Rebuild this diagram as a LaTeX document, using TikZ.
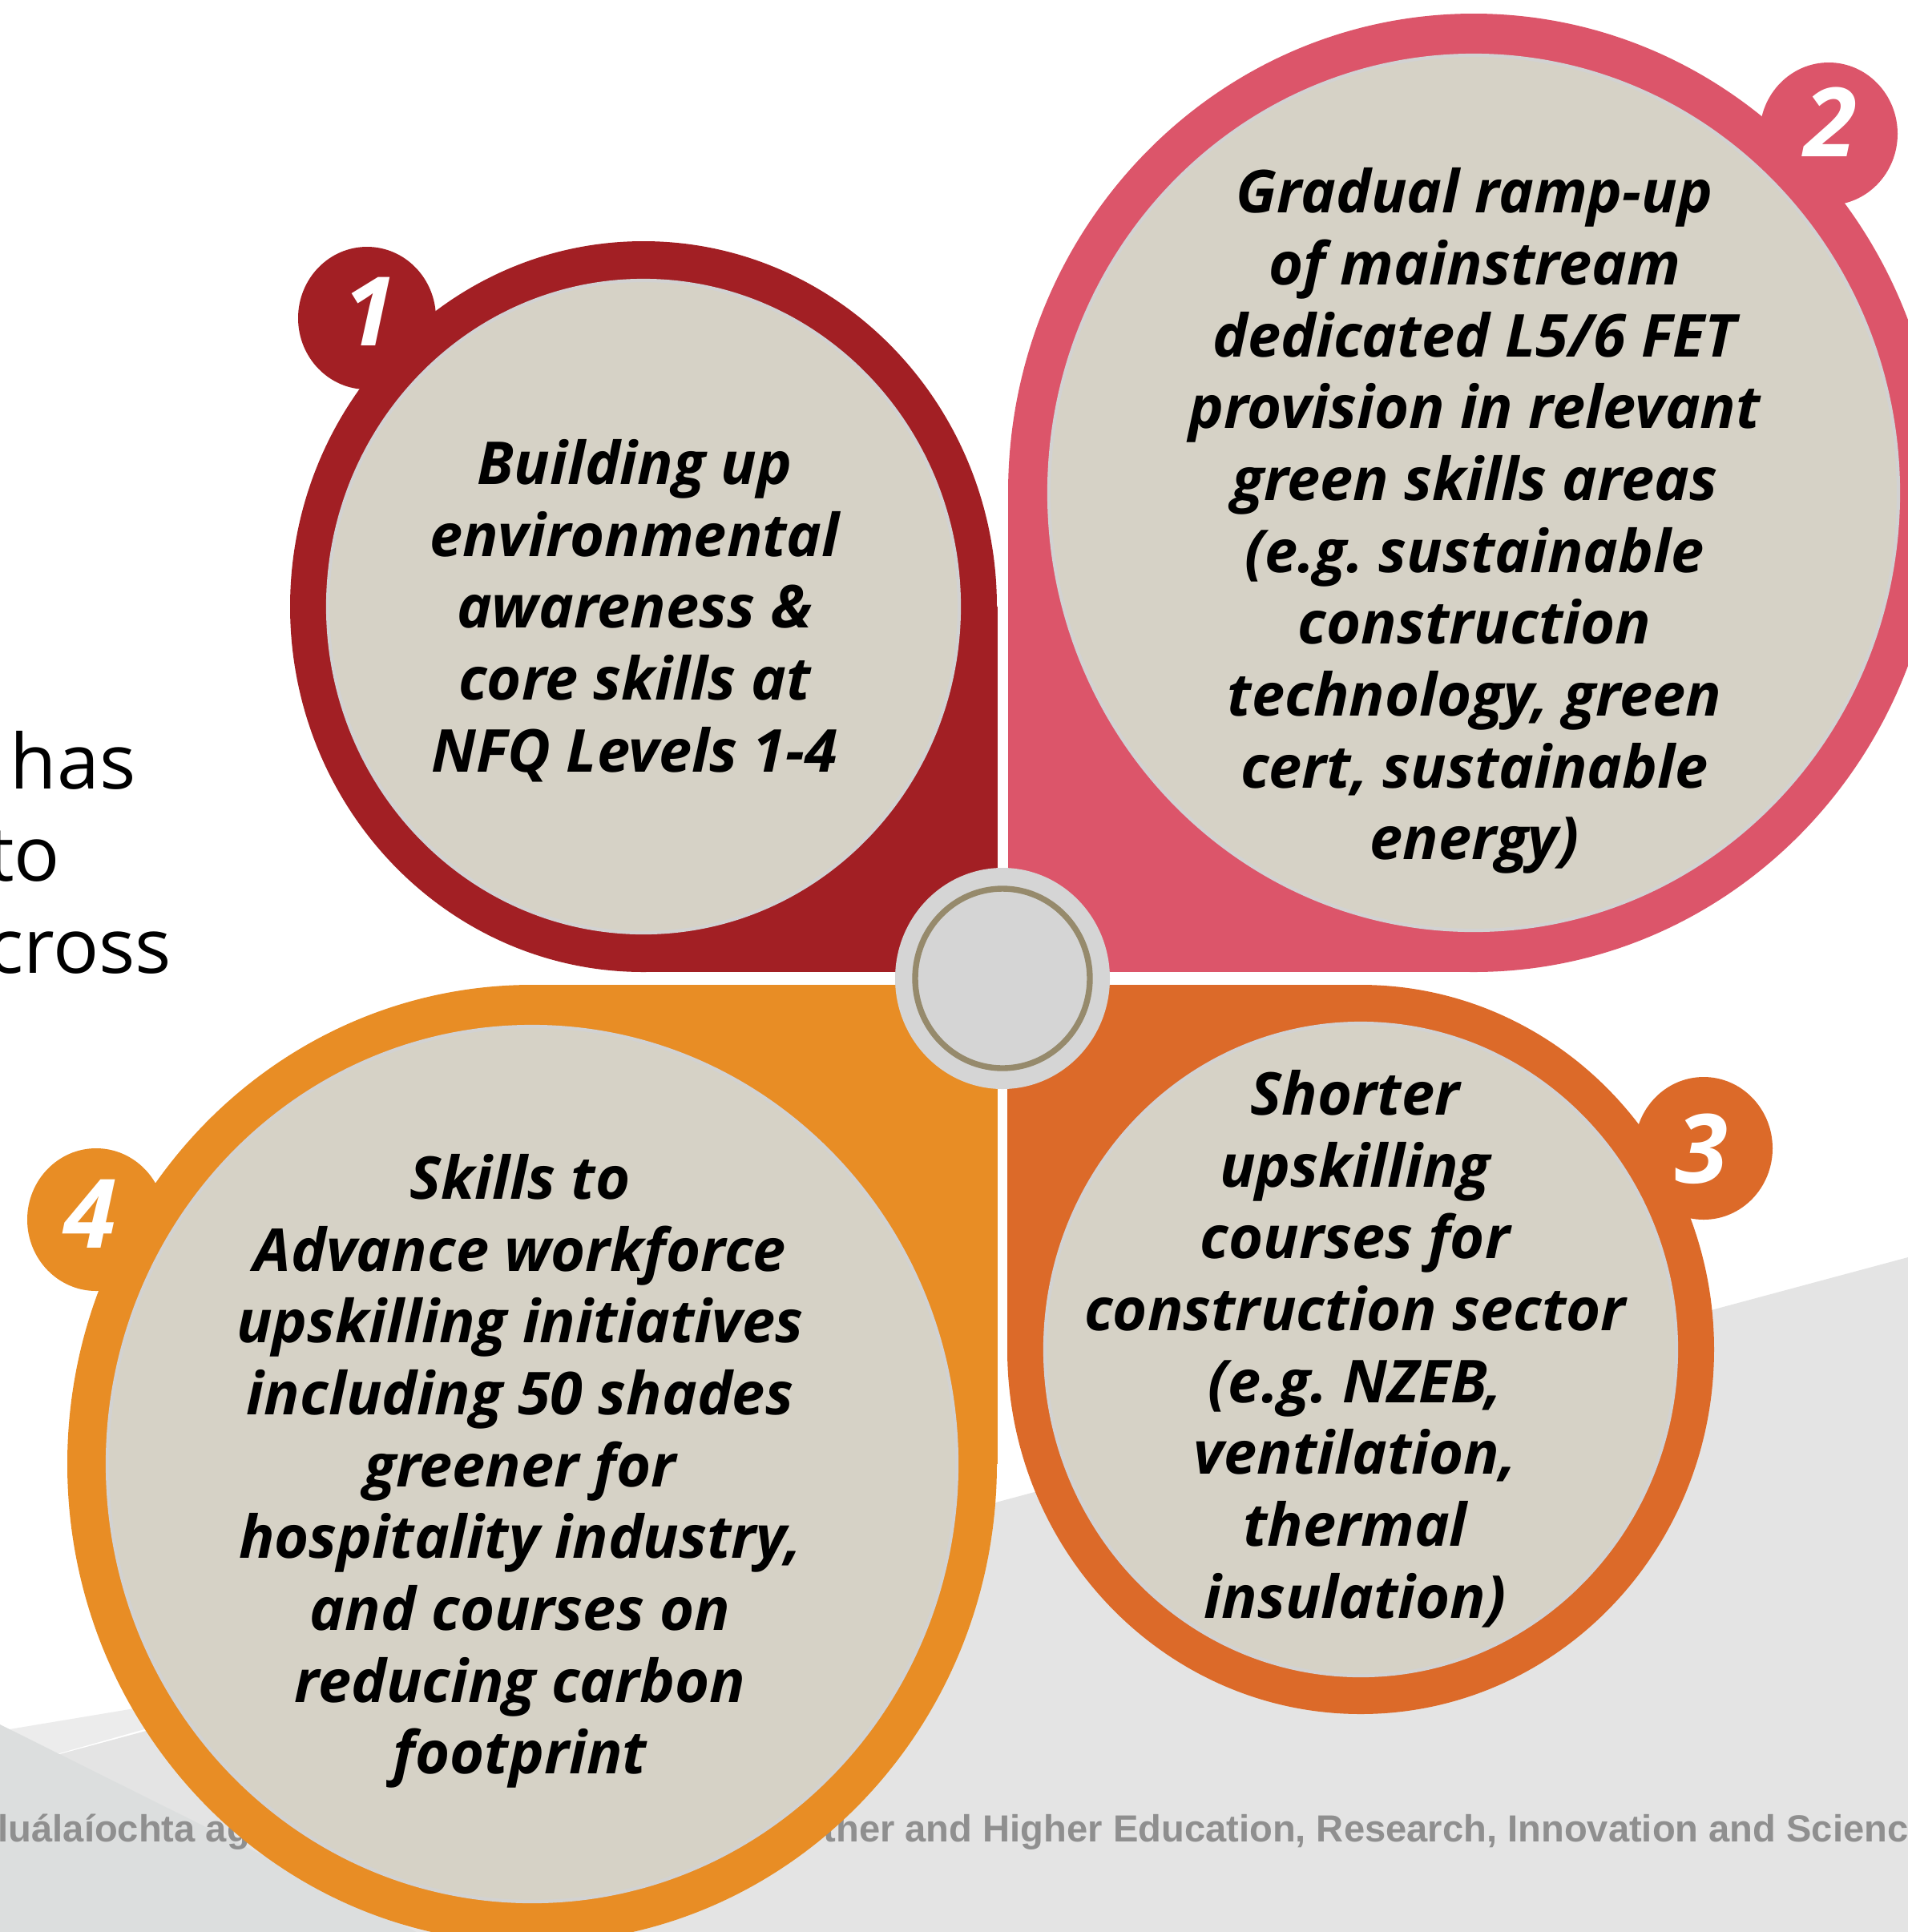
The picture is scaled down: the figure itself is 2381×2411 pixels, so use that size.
\documentclass[tikz,border=0pt]{standalone}
\usepackage{fontspec}
\setmainfont{Open Sans}
\newfontfamily\footfont{Liberation Sans}
\usetikzlibrary{calc}
\definecolor{petalA}{HTML}{A21F24}
\definecolor{petalB}{HTML}{DC556A}
\definecolor{petalC}{HTML}{DC6A29}
\definecolor{petalD}{HTML}{E88D25}
\definecolor{beige}{HTML}{D6D2C6}
\definecolor{rimgray}{HTML}{D2D2D2}
\definecolor{hubgray}{HTML}{D5D5D5}
\definecolor{hubring}{HTML}{968A6C}
\definecolor{footgray}{HTML}{8F8F8F}
\definecolor{floorA}{HTML}{E4E4E4}
\definecolor{floorB}{HTML}{ECECEC}
\definecolor{floorC}{HTML}{DCDEDE}
\tikzset{
  petaltext/.style={align=center, inner sep=0pt,
    font=\fontsize{21}{25.5}\selectfont\bfseries\itshape\frenchspacing},
  badgenum/.style={text=white, inner sep=0pt,
    font=\fontsize{34}{34}\selectfont\bfseries\itshape},
  corecircle/.style={fill=beige, draw=rimgray, line width=1.2pt},
  sidetext/.style={anchor=base east, inner sep=0pt,
    font=\fontsize{27}{27}\selectfont},
  foottext/.style={anchor=base west, inner sep=0pt, text=footgray,
    font=\footfont\fontsize{13.4}{13.4}\selectfont\bfseries},
}

\begin{document}
\begin{tikzpicture}[x=0.01cm,y=-0.01cm]
\useasboundingbox (0,0) rectangle (2381,2411);
\clip (0,0) rectangle (2381,2411);
\fill[white] (0,0) rectangle (2381,2411);

% grey floor facets
\fill[floorA] (2381,1569) -- (0,2209) -- (0,2411) -- (2381,2411) -- cycle;
\fill[floorB] (0,2160) -- (420,2090) -- (0,2209) -- cycle;
\fill[floorC] (0,2152) -- (520,2411) -- (0,2411) -- cycle;

% footer line, partly hidden by petal 4
\node[foottext] (fl) at (-3,2298) {luálaíochta ag};
\node[foottext] (fr) at (1027,2298)
  {ther and Higher Education, Research, Innovation and Science};

% text running in from the left
\node[sidetext] (s1) at (170,984) {has};
\node[sidetext] (s2) at (76,1099) {to};
\node[sidetext] (s3) at (215,1214) {cross};

% petal 1 (top left)
\fill[petalA] (803,757) ellipse [x radius=441, y radius=456];
\fill[petalA] (803,757) rectangle (1245,1213);
\fill[petalA] (458,397) ellipse [x radius=86, y radius=89];
\draw[corecircle] (803,757) ellipse [x radius=394, y radius=407];

% petal 2 (top right)
\fill[petalB] (1839,615) ellipse [x radius=581, y radius=598];
\fill[petalB] (1258,615) rectangle (1839,1213);
\fill[petalB] (2282,167) ellipse [x radius=86, y radius=89];
\draw[corecircle] (1839,615) ellipse [x radius=530, y radius=546];

% petal 3 (bottom right)
\fill[petalC] (1698,1684) ellipse [x radius=441, y radius=455];
\fill[petalC] (1257,1229) rectangle (1698,1684);
\fill[petalC] (2126,1433) ellipse [x radius=86, y radius=89];
\draw[corecircle] (1698,1684) ellipse [x radius=394, y radius=407];

% petal 4 (bottom left)
\fill[petalD] (664,1827) ellipse [x radius=580, y radius=598];
\fill[petalD] (664,1229) rectangle (1245,1827);
\fill[petalD] (120,1522) ellipse [x radius=86, y radius=89];
\draw[corecircle] (664,1827) ellipse [x radius=530, y radius=546];

% hub
\fill[hubgray] (1251,1221) ellipse [x radius=134, y radius=138];
\draw[hubring, line width=2.1pt] (1251,1221) ellipse [x radius=109, y radius=112];

% numbers
\node[badgenum] (n1) at (461,389) {1};
\node[badgenum] (n2) at (2284,152) {2};
\node[badgenum] (n3) at (2123,1434) {3};
\node[badgenum] (n4) at (112,1515) {4};

% petal texts
\node[petaltext] (t1) at (792,762) {Building up\\environmental\\awareness \&\\
  core skills at\\NFQ Levels 1-4};
\node[petaltext] (t2) at (1840,650) {Gradual ramp-up\\of mainstream\\
  dedicated L5/6 FET\\provision in relevant\\green skills areas\\
  (e.g. sustainable\\construction\\technology, green\\
  cert, sustainable\\energy)};
\node[petaltext] (t3) at (1691,1683) {Shorter\\upskilling\\courses for\\
  construction sector\\(e.g. NZEB,\\ventilation,\\thermal\\insulation)};
\node[petaltext] (t4) at (649,1836) {Skills to\\Advance workforce\\
  upskilling initiatives\\including 50 shades\\greener for\\
  hospitality industry,\\and courses on\\reducing carbon\\footprint};
\end{tikzpicture}
\end{document}
